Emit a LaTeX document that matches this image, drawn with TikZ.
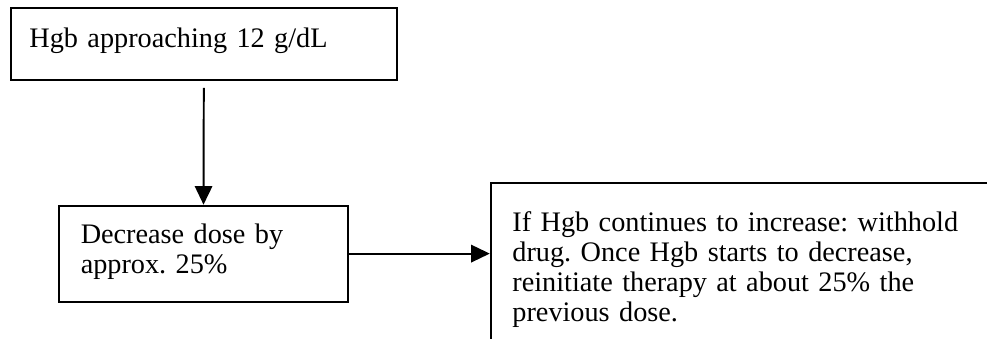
\documentclass[tikz,border=0pt]{standalone}
\usepackage{fontspec}
\setmainfont{Liberation Serif}
\usetikzlibrary{arrows.meta}
\frenchspacing

\begin{document}
\begin{tikzpicture}[line width=0.9pt, font=\fontsize{13}{13.8}\selectfont,
  box/.style={draw, anchor=north west, align=left, inner ysep=0pt},
  tip/.style={-{Triangle[length=3mm, width=2.8mm]}}]
\useasboundingbox (0,0) rectangle (15.96,-5.48);
\clip (0,0) rectangle (15.96,-5.48);
\node [box, inner xsep=0.3cm, text width=5.64cm, text height=0.65cm, text depth=0.52cm] (hgb) at (0.16,-0.11) {Hgb approaching 12 g/dL};
\node [box, inner xsep=0.35cm, text width=3.97cm, text height=0.61cm, text depth=0.94cm] (decrease) at (0.94,-3.31) {Decrease dose by\\approx. 25\%};
\node [box, inner xsep=0.35cm, text width=7.55cm, text height=0.78cm, text depth=2.1cm] (withhold) at (7.92,-2.94) {If Hgb continues to increase: withhold\\drug. Once Hgb starts to decrease,\\reinitiate therapy at about 25\% the\\previous dose.};

\draw [tip, shorten <=0.11cm] (hgb.south) -- (decrease.north);
\draw [tip] (decrease.east) -- (decrease.east -| withhold.west);
\end{tikzpicture}
\end{document}
